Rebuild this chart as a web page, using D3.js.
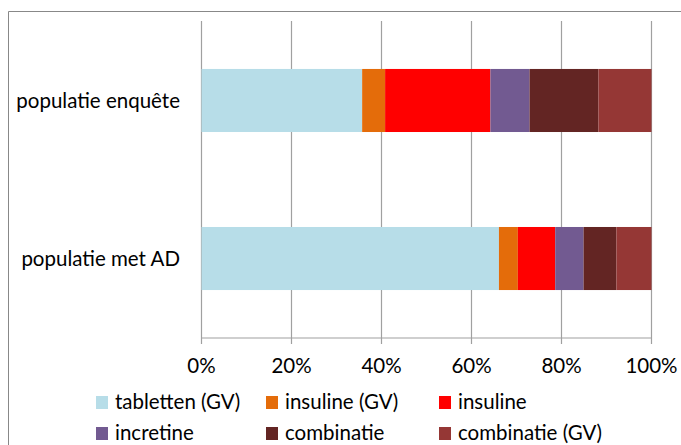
<!DOCTYPE html>
<html>
<head>
<meta charset="utf-8">
<script src="https://cdn.jsdelivr.net/npm/d3@7"></script>
<style>
  body { margin: 0; background: #fff; }
  svg text { font-family: Lato, "Open Sans", sans-serif; fill: #000; }
</style>
</head>
<body>
<svg id="chart" width="681" height="445"></svg>
<script>
const categories = ['populatie enquête', 'populatie met AD'];
const seriesNames = ['tabletten (GV)', 'insuline (GV)', 'insuline', 'incretine', 'combinatie', 'combinatie (GV)'];
const enqueteValues = [35.7, 5.1, 23.4, 8.7, 15.3, 11.8];
const adValues = [66.1, 4.2, 8.3, 6.3, 7.3, 7.8];
const tickValues = [0, 20, 40, 60, 80, 100];
const colors = ['#b7dde8', '#e46c0a', '#ff0000', '#725a91', '#632523', '#953735'];

const rows = [enqueteValues, adValues].map((vals, i) => {
  const r = { cat: categories[i] };
  seriesNames.forEach((s, j) => r[s] = vals[j]);
  return r;
});

const svg = d3.select('#chart');

// chart frame (only top and left visible)
svg.append('path')
  .attr('d', 'M8.5,445 V11.5 H681')
  .attr('fill', 'none')
  .attr('stroke', '#888')
  .attr('stroke-width', 1);

const x = d3.scaleLinear().domain([0, 100]).range([201.5, 651.5]);
const y = d3.scaleBand().domain(categories).range([21, 338])
  .paddingInner(0.601).paddingOuter(0.3035);

const g = svg.append('g');

// gridlines
g.selectAll('line.grid')
  .data(tickValues)
  .enter().append('line')
  .attr('x1', d => x(d)).attr('x2', d => x(d))
  .attr('y1', 21).attr('y2', 344)
  .attr('stroke', '#a0a0a0')
  .attr('stroke-width', 1.2);

// axis line
g.append('line')
  .attr('x1', x(0)).attr('x2', x(100))
  .attr('y1', 338).attr('y2', 338)
  .attr('stroke', '#a0a0a0')
  .attr('stroke-width', 1.2);

const stack = d3.stack().keys(seriesNames);
const layers = stack(rows);
const color = d3.scaleOrdinal().domain(seriesNames).range(colors);

g.selectAll('g.layer')
  .data(layers)
  .enter().append('g')
  .attr('fill', d => color(d.key))
  .selectAll('rect')
  .data(d => d)
  .enter().append('rect')
  .attr('x', d => x(d[0]))
  .attr('width', d => x(d[1]) - x(d[0]))
  .attr('y', d => y(d.data.cat))
  .attr('height', y.bandwidth());

// category labels
g.selectAll('text.cat')
  .data(categories)
  .enter().append('text')
  .attr('x', 180)
  .attr('y', d => y(d) + y.bandwidth() / 2)
  .attr('dy', '.35em')
  .attr('text-anchor', 'end')
  .style('font-size', '20.5px')
  .text(d => d);

// tick labels
g.selectAll('text.tick')
  .data(tickValues)
  .enter().append('text')
  .attr('x', d => x(d))
  .attr('y', 366)
  .attr('dy', '.35em')
  .attr('text-anchor', 'middle')
  .style('font-size', '20.5px')
  .text(d => d + '%');

// legend
const legendX = [96, 266, 439];
const legendY = [402, 433];
const legend = svg.selectAll('g.legend')
  .data(seriesNames)
  .enter().append('g')
  .attr('transform', (d, i) => `translate(${legendX[i % 3]},${legendY[Math.floor(i / 3)]})`);

legend.append('rect')
  .attr('x', 0).attr('y', -6)
  .attr('width', 12).attr('height', 13)
  .attr('fill', d => color(d));

legend.append('text')
  .attr('x', 19)
  .attr('y', 0)
  .attr('dy', '.35em')
  .style('font-size', '20.5px')
  .text(d => d);
</script>
</body>
</html>
